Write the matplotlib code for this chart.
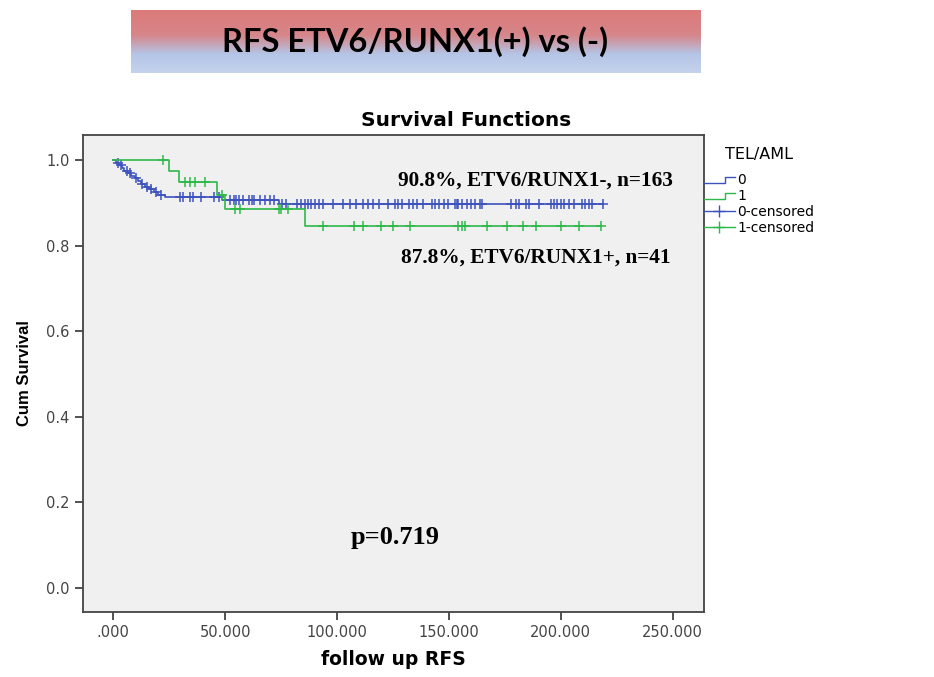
import numpy as np
import matplotlib
matplotlib.use("Agg")
import matplotlib.pyplot as plt
from matplotlib.lines import Line2D
from matplotlib.legend_handler import HandlerBase

# group 0 (ETV6/RUNX1-) step curve: event times and survival after each step
blue_times = [0, 1, 2.5, 4, 5, 6.5, 8, 9.5, 11, 12.5, 14, 16, 18, 20, 23, 48.5, 74]
blue_surv = [1.0, 0.994, 0.988, 0.981, 0.975, 0.969, 0.963, 0.957, 0.950, 0.944,
             0.938, 0.932, 0.926, 0.919, 0.913, 0.906, 0.898]
blue_cens = [2, 3.5, 6, 7.5, 10, 13, 15, 17, 19, 21.5,
             29.6, 31, 34.5, 35.4, 39, 45, 47.3,
             52, 54, 55, 56, 58, 60.6, 62, 63, 65.5, 67.7, 70, 71.7,
             75.2, 77.4, 81.9, 84, 85.5, 87, 88.5, 90, 92, 93.8, 98, 102.6, 106,
             108.4, 111.5, 113.7, 116, 118.6, 123, 126, 127.4, 129, 132, 134,
             135.8, 138.5, 142.5, 143.8, 145.4, 148, 149.6, 152.7, 153.5, 154,
             156, 158, 160, 161.5, 163.7, 164.6, 177.9, 180, 181.4, 184.5, 185.8,
             190.3, 195.6, 197, 198.2, 200, 201.3, 203.5, 205.8, 209.3, 211,
             212.4, 213.8, 219]

# group 1 (ETV6/RUNX1+)
green_times = [0, 25, 29.5, 46.5, 50, 85.5]
green_surv = [1.0, 0.974, 0.949, 0.918, 0.886, 0.846]
green_cens = [22, 32, 34.5, 36.7, 41, 48.7, 54.5, 56.8, 74, 75, 78,
              93.8, 107.5, 111.5, 119.5, 124.8, 132.7, 154, 156, 157, 167,
              176, 183, 189, 200, 208, 218]

x_ticks = [0, 50, 100, 150, 200, 250]
x_tick_labels = [".000", "50.000", "100.000", "150.000", "200.000", "250.000"]
y_ticks = [0.0, 0.2, 0.4, 0.6, 0.8, 1.0]

BLUE = "#3d52bd"
GREEN = "#2fb84a"


class StepHandler(HandlerBase):
    def create_artists(self, legend, orig_handle, xdescent, ydescent,
                       width, height, fontsize, trans):
        x0, x1 = -xdescent, -xdescent + width
        xm = x0 + 0.7 * width
        ylo, yhi = -ydescent + 0.15 * height, -ydescent + 0.7 * height
        line = Line2D([x0, xm, xm, x1], [ylo, ylo, yhi, yhi],
                      color=orig_handle.get_color(), lw=1.0, transform=trans)
        return [line]


def draw_group(ax, times, surv, cens, color):
    end = max(cens)
    t = list(times) + [end]
    s = list(surv) + [surv[-1]]
    ax.step(t, s, where="post", color=color, lw=1.2)
    idx = np.searchsorted(times, cens, side="right") - 1
    levels = np.array(surv)[idx]
    ax.plot(cens, levels, linestyle="none", marker="+", markersize=7,
            markeredgewidth=1.1, color=color)


fig = plt.figure(figsize=(9.34, 6.77), dpi=100)
fig.patch.set_facecolor("white")

# header banner with red-to-blue gradient
bax = fig.add_axes([131 / 934, 1 - 73 / 677, 569 / 934, 63 / 677])
rows = np.linspace(0, 1, 100)
stops = [0.0, 0.4, 0.7, 1.0]
cols = np.array([[221, 122, 122], [214, 134, 138], [180, 197, 230], [196, 210, 237]]) / 255
grad = np.stack([np.interp(rows, stops, cols[:, k]) for k in range(3)], axis=1)
bax.imshow(grad[:, None, :], aspect="auto", extent=[0, 1, 0, 1])
bax.set_axis_off()
bax.text(0.5, 0.5, "RFS ETV6/RUNX1(+) vs (-)", ha="center", va="center",
         fontsize=23.5, fontweight="bold", family="Lato", color="black")

ax = fig.add_axes([0.0885, 0.0964, 0.6652, 0.7041])
ax.set_facecolor("#f0f0f0")
draw_group(ax, blue_times, blue_surv, blue_cens, BLUE)
draw_group(ax, green_times, green_surv, green_cens, GREEN)

ax.set_xlim(-13.7, 264)
ax.set_ylim(-0.0554, 1.0584)
ax.set_xticks(x_ticks)
ax.set_xticklabels(x_tick_labels)
ax.set_yticks(y_ticks)
ax.set_yticklabels([f"{v:.1f}" for v in y_ticks])
ax.tick_params(direction="out", length=6, width=1.2, colors="#333333",
               labelsize=10.5, labelcolor="#444444")
for lab in ax.get_xticklabels() + ax.get_yticklabels():
    lab.set_family("DejaVu Sans")
for sp in ax.spines.values():
    sp.set_color("#444444")
    sp.set_linewidth(1.3)

fig.text(466 / 934, 1 - 121 / 677, "Survival Functions", ha="center", va="center",
         fontsize=14.5, fontweight="bold", family="DejaVu Sans")
ax.set_xlabel("follow up RFS", fontsize=13.5, fontweight="bold",
              family="DejaVu Sans", labelpad=7)
ax.set_ylabel("Cum Survival", fontsize=12, fontweight="bold",
              family="Liberation Sans", labelpad=10)

ax.text(188.5, 0.951, "90.8%, ETV6/RUNX1-, n=163", ha="center", va="center",
        fontsize=15.3, fontweight="bold", family="Liberation Serif")
ax.text(189, 0.771, "87.8%, ETV6/RUNX1+, n=41", ha="center", va="center",
        fontsize=15.3, fontweight="bold", family="Liberation Serif")
ax.text(126, 0.117, "p=0.719", ha="center", va="center",
        fontsize=19, fontweight="bold", family="Liberation Serif")

h0 = Line2D([], [], color=BLUE)
h1 = Line2D([], [], color=GREEN)
h2 = Line2D([], [], color=BLUE, marker="+", markersize=9, lw=1.0)
h3 = Line2D([], [], color=GREEN, marker="+", markersize=9, lw=1.0)
leg = ax.legend([h0, h1, h2, h3], ["0", "1", "0-censored", "1-censored"],
                handler_map={h0: StepHandler(), h1: StepHandler()},
                loc="upper left", bbox_to_anchor=(1.0, 0.975), frameon=False,
                title="TEL/AML", fontsize=10, title_fontsize=11.5,
                handlelength=2.2, handletextpad=0.2, labelspacing=0.15,
                borderaxespad=0.0, borderpad=0.0)
leg._legend_box.align = "center"
leg._legend_box.sep = 8
for txt in leg.get_texts():
    txt.set_family("DejaVu Sans")
leg.get_title().set_family("DejaVu Sans")

fig.savefig("out.png", dpi=100)
